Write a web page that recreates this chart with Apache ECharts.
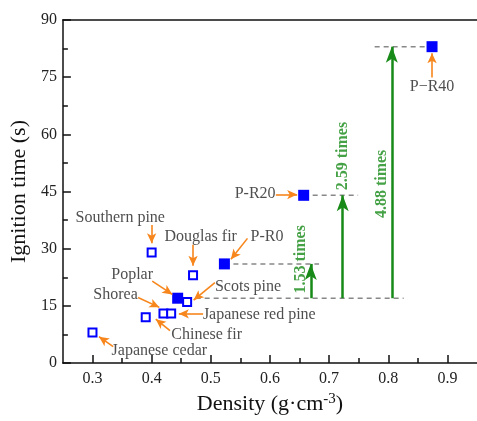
<!DOCTYPE html>
<html>
<head>
<meta charset="utf-8">
<script src="https://cdn.jsdelivr.net/npm/echarts@6/dist/echarts.min.js"></script>
<style>
  html, body { margin: 0; padding: 0; background: #fff; }
  #chart { width: 477px; height: 421px; }
</style>
</head>
<body>
<div id="chart"></div>
<script>
// wood species (open squares)
var woodNames = ['Japanese cedar', 'Chinese fir', 'Southern pine', 'Shorea', 'Japanese red pine', 'Scots pine', 'Douglas fir'];
var woodDensity = [0.30, 0.39, 0.40, 0.42, 0.433, 0.46, 0.47];
var woodTime = [8, 12, 29, 13, 13, 16, 23];

// poplar and treated samples (filled squares)
var sampleNames = ['Poplar', 'P-R0', 'P-R20', 'P\u2212R40'];
var sampleDensity = [0.444, 0.523, 0.657, 0.874];
var sampleTime = [17, 26, 44, 83];

// axis ticks
var xTicks = [0.3, 0.4, 0.5, 0.6, 0.7, 0.8, 0.9];
var xMinorTicks = [0.35, 0.45, 0.55, 0.65, 0.75, 0.85];

// label text centres, in the same order as woodNames then sampleNames
var labelX = [0.413, 0.493, 0.347, 0.339, 0.582, 0.563, 0.483, 0.367, 0.595, 0.575, 0.874];
var labelY = [3.2, 7.3, 38.2, 17.8, 12.6, 19.9, 33.0, 23.1, 33.1, 44.3, 72.5];
// orange pointer arrows: start -> end
var pointerFrom = [[0.335, 4.3], [0.431, 8.5], [0.40, 36.2], [0.377, 17.2], [0.487, 12.9], [0.507, 21.1], [0.47, 31.0], [0.401, 21.5], [0.562, 32.7], [0.61, 44.2], [0.874, 74.9]];
var pointerTo = [[0.311, 6.9], [0.407, 11.5], [0.40, 31.4], [0.413, 14.6], [0.446, 12.9], [0.471, 16.5], [0.47, 25.5], [0.435, 18.0], [0.534, 27.2], [0.646, 44.2], [0.874, 81.3]];

// dashed guide lines end x, and green arrows x / ratio label spots
var guideEnd = [0.826, 0.683, 0.749];
var guideStartR40 = 0.777;
var riseX = [0.669, 0.723, 0.806];
var ratioX = [0.652, 0.723, 0.789];
var ratioY = [27.2, 54.3, 47.0];

var serif = 'Liberation Serif';
var orange = '#f7861c';
var green = '#178a17';

var allNames = woodNames.concat(sampleNames);

var labelData = allNames.map(function (n, i) {
  return { value: [labelX[i], labelY[i]], name: n };
});

var pointerLines = pointerFrom.map(function (p, i) {
  return [{ coord: p }, { coord: pointerTo[i] }];
});

var base = sampleTime[0];
var guides = [
  [[sampleDensity[0], base], [guideEnd[0], base]],
  [[sampleDensity[1], sampleTime[1]], [guideEnd[1], sampleTime[1]]],
  [[sampleDensity[2], sampleTime[2]], [guideEnd[2], sampleTime[2]]],
  [[guideStartR40, sampleTime[3]], [sampleDensity[3], sampleTime[3]]]
];

var riseLines = riseX.map(function (x, i) {
  return [{ coord: [x, base] }, { coord: [x, sampleTime[i + 1]] }];
});

var ratioData = ratioX.map(function (x, i) {
  return { value: [x, ratioY[i]], name: (sampleTime[i + 1] / base).toFixed(2) + ' times' };
});

var guideSeries = guides.map(function (g) {
  return {
    type: 'line',
    data: g,
    z: 1,
    symbol: 'none',
    silent: true,
    lineStyle: { color: '#888', type: [5, 4], width: 1.5 }
  };
});

var chart = echarts.init(document.getElementById('chart'));

chart.setOption({
  animation: false,
  backgroundColor: '#fff',
  textStyle: { fontFamily: serif },
  grid: { left: 58, top: 20, width: 424, height: 343 },
  xAxis: [{
    type: 'value',
    min: 0.25,
    max: 0.95,
    position: 'bottom',
    name: 'Density (g\u00b7cm{sup|-3})',
    nameLocation: 'middle',
    nameGap: 28,
    nameTextStyle: {
      fontFamily: serif, fontSize: 22, color: '#111',
      rich: { sup: { fontFamily: serif, fontSize: 15, verticalAlign: 'top', padding: [0, 0, 10, 0], color: '#111' } }
    },
    axisLine: { lineStyle: { color: '#111', width: 1.5 } },
    axisTick: { inside: true, length: 8, customValues: xTicks, lineStyle: { color: '#111', width: 1.5 } },
    axisLabel: {
      customValues: xTicks, fontFamily: serif, fontSize: 16, color: '#222', margin: 8,
      formatter: function (v) { return v.toFixed(1); }
    },
    splitLine: { show: false }
  }, {
    type: 'value',
    min: 0.25,
    max: 0.95,
    position: 'bottom',
    axisLine: { show: false },
    axisTick: { inside: true, length: 5, customValues: xMinorTicks, lineStyle: { color: '#111', width: 1.5 } },
    axisLabel: { show: false },
    splitLine: { show: false }
  }, {
    type: 'value',
    min: 0.25,
    max: 0.95,
    position: 'top',
    axisLine: { lineStyle: { color: '#111', width: 1.5 } },
    axisTick: { show: false },
    axisLabel: { show: false },
    splitLine: { show: false }
  }],
  yAxis: {
    type: 'value',
    min: 0,
    max: 90,
    interval: 15,
    name: 'Ignition time (s)',
    nameLocation: 'middle',
    nameGap: 32,
    nameTextStyle: { fontFamily: serif, fontSize: 22, color: '#111' },
    axisLine: { show: true, lineStyle: { color: '#111', width: 1.5 } },
    axisTick: { inside: true, length: 8, lineStyle: { color: '#111', width: 1.5 } },
    minorTick: { show: true, splitNumber: 2, length: 5, lineStyle: { color: '#111', width: 1.5 } },
    axisLabel: { fontFamily: serif, fontSize: 16, color: '#222', margin: 6 },
    splitLine: { show: false }
  },
  series: guideSeries.concat([{
    // green rise arrows
    type: 'scatter',
    data: [],
    z: 2,
    markLine: {
      silent: true,
      symbol: ['none', 'arrow'],
      symbolSize: [9, 16],
      label: { show: false },
      lineStyle: { color: green, type: 'solid', width: 2.5 },
      data: riseLines
    }
  }, {
    // orange pointers
    type: 'scatter',
    data: [],
    z: 2,
    markLine: {
      silent: true,
      symbol: ['none', 'arrow'],
      symbolSize: [7, 10],
      label: { show: false },
      lineStyle: { color: orange, type: 'solid', width: 1.6 },
      data: pointerLines
    }
  }, {
    name: 'Poplar samples',
    type: 'scatter',
    z: 4,
    symbol: 'rect',
    symbolSize: 11,
    itemStyle: { color: '#0000ff', opacity: 1 },
    data: sampleDensity.map(function (d, i) { return [d, sampleTime[i]]; })
  }, {
    name: 'Wood',
    type: 'scatter',
    z: 5,
    symbol: 'rect',
    symbolSize: 8,
    itemStyle: { color: '#fff', borderColor: '#0000ff', borderWidth: 2, opacity: 1 },
    data: woodDensity.map(function (d, i) { return [d, woodTime[i]]; })
  }, {
    type: 'scatter',
    z: 6,
    symbolSize: 0,
    silent: true,
    data: labelData,
    label: {
      show: true, position: 'inside', align: 'center', verticalAlign: 'middle',
      fontFamily: serif, fontSize: 16, color: '#222',
      formatter: function (p) { return p.name; }
    }
  }, {
    type: 'scatter',
    z: 6,
    symbolSize: 0,
    silent: true,
    data: ratioData,
    label: {
      show: true, position: 'inside', rotate: 90, align: 'center', verticalAlign: 'middle',
      fontFamily: serif, fontSize: 16, fontWeight: 'bold', color: green,
      formatter: function (p) { return p.name; }
    }
  }])
});
</script>
</body>
</html>
